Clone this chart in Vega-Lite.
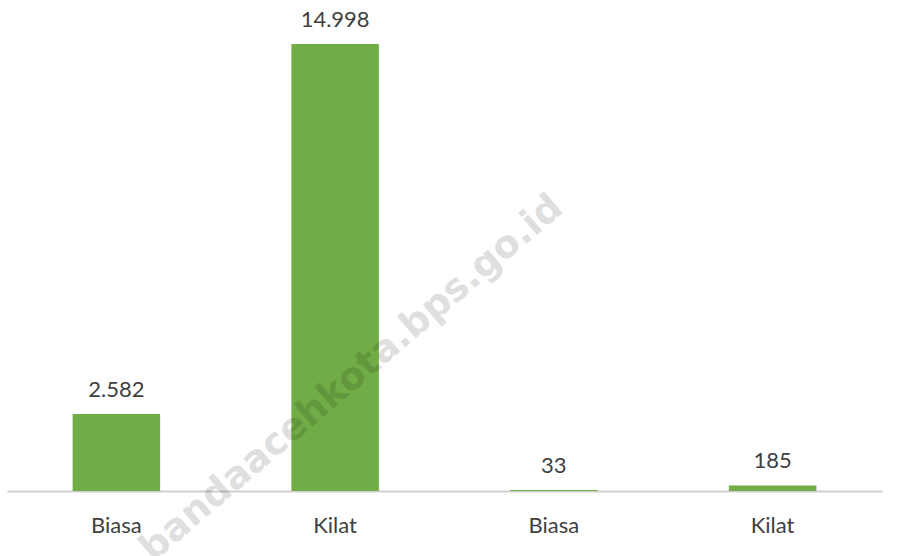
{
  "$schema": "https://vega.github.io/schema/vega-lite/v6.json",
  "width": 875,
  "height": 447,
  "autosize": {"type": "none"},
  "padding": {"left": 7, "top": 44, "right": 15, "bottom": 65},
  "background": "white",
  "config": {
    "view": {"stroke": null},
    "locale": {"number": {"decimal": ",", "thousands": ".", "grouping": [3], "currency": ["Rp", ""]}},
    "font": "Lato"
  },
  "data": {
    "values": [
      {"key": "b1", "label": "Biasa", "value": 2582},
      {"key": "k1", "label": "Kilat", "value": 14998},
      {"key": "b2", "label": "Biasa", "value": 33},
      {"key": "k2", "label": "Kilat", "value": 185}
    ]
  },
  "encoding": {
    "x": {
      "field": "key",
      "type": "nominal",
      "sort": null,
      "scale": {"paddingInner": 0.6, "paddingOuter": 0.3},
      "axis": {
        "title": null,
        "labelAngle": 0,
        "labelExpr": "datum.value == 'b1' || datum.value == 'b2' ? 'Biasa' : 'Kilat'",
        "ticks": false,
        "tickSize": 0,
        "labelBaseline": "alphabetic",
        "labelPadding": 41,
        "labelFontSize": 22,
        "labelColor": "#404040",
        "labelFont": "Lato",
        "domainColor": "#cfcfcf",
        "domainWidth": 2,
        "grid": false
      }
    },
    "y": {
      "field": "value",
      "type": "quantitative",
      "scale": {"domain": [0, 14998], "nice": false},
      "axis": null
    }
  },
  "layer": [
    {"mark": {"type": "bar", "color": "#70AD47"}},
    {
      "mark": {"type": "text", "baseline": "alphabetic", "dy": -17, "fontSize": 22, "color": "#404040", "font": "Lato"},
      "encoding": {"text": {"field": "value", "type": "quantitative", "format": ",d"}}
    },
    {
      "data": {"values": [{"wm": "bandaacehkota.bps.go.id", "wx": "k1", "wy": 3300}]},
      "mark": {"type": "text", "angle": -40.5, "fontSize": 38, "fontWeight": "bold", "font": "DejaVu Sans", "color": "black", "opacity": 0.12, "align": "center", "baseline": "middle", "dx": 22},
      "encoding": {
        "x": {"field": "wx", "type": "nominal"},
        "y": {"field": "wy", "type": "quantitative"},
        "text": {"field": "wm"}
      }
    }
  ]
}
